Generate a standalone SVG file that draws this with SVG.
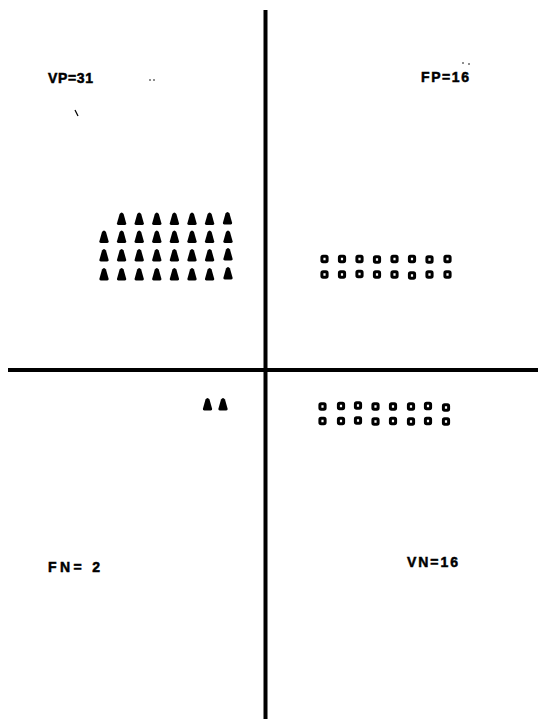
<svg xmlns="http://www.w3.org/2000/svg" xmlns:xlink="http://www.w3.org/1999/xlink" width="538" height="719" viewBox="0 0 538 719">
<style>
.lbl{font-family:"Liberation Sans",Arial,sans-serif;font-weight:bold;font-size:14px;fill:#000;stroke:#000;stroke-width:0.5}
.ax{stroke:#000;stroke-width:4;fill:none}
.sq{fill:none;stroke:#000;stroke-width:3}
.tr{fill:#000}
.spk{stroke:#000;stroke-width:1.2;fill:none}
</style>
<defs>
<path id="tri" class="tr" d="M-4.6,4.8 Q-5,6.5 -3.2,6.5 L3.2,6.5 Q5,6.5 4.6,4.8 L2,-4.5 Q0,-7.5 -2,-4.5 Z"/>
<rect id="sq" class="sq" x="-2.6" y="-2.8" width="5.2" height="5.6" rx="1.2"/>
</defs>
<rect width="538" height="719" fill="#fff"/>
<g id="connectors">
<line class="ax" x1="265.5" y1="10" x2="265.5" y2="719"/>
<line class="ax" x1="8" y1="370" x2="538" y2="370"/>
</g>
<g id="label-vp"><text class="lbl" x="48" y="83" textLength="45" lengthAdjust="spacing">VP=31</text></g>
<g id="label-fp"><text class="lbl" x="421" y="82" textLength="48" lengthAdjust="spacing">FP=16</text></g>
<g id="label-fn"><text class="lbl" x="48" y="572" textLength="52" lengthAdjust="spacing">FN= 2</text></g>
<g id="label-vn"><text class="lbl" x="407" y="567" textLength="51" lengthAdjust="spacing">VN=16</text></g>
<g id="specks">
<line class="spk" x1="75" y1="110" x2="78" y2="116"/>
<circle cx="150" cy="80" r="0.8"/><circle cx="154" cy="80" r="0.8"/>
<circle cx="463" cy="63" r="0.8"/><circle cx="469" cy="64" r="0.8"/>
</g>
<g id="vp-triangles">
<use xlink:href="#tri" x="121.6" y="218.5"/><use xlink:href="#tri" x="139.2" y="218.5"/><use xlink:href="#tri" x="156.8" y="218.5"/><use xlink:href="#tri" x="174.4" y="218.5"/><use xlink:href="#tri" x="192" y="218.5"/><use xlink:href="#tri" x="209.6" y="218.5"/><use xlink:href="#tri" x="227.5" y="218"/>
<use xlink:href="#tri" x="104" y="236.5"/><use xlink:href="#tri" x="121.6" y="236.5"/><use xlink:href="#tri" x="139.2" y="236.5"/><use xlink:href="#tri" x="156.8" y="236.5"/><use xlink:href="#tri" x="174.4" y="236.5"/><use xlink:href="#tri" x="192" y="236.5"/><use xlink:href="#tri" x="209.6" y="236.5"/><use xlink:href="#tri" x="228" y="236.5"/>
<use xlink:href="#tri" x="104" y="255"/><use xlink:href="#tri" x="121.6" y="255"/><use xlink:href="#tri" x="139.2" y="255"/><use xlink:href="#tri" x="156.8" y="255"/><use xlink:href="#tri" x="174.4" y="255"/><use xlink:href="#tri" x="192" y="255"/><use xlink:href="#tri" x="209.6" y="255"/><use xlink:href="#tri" x="228" y="254"/>
<use xlink:href="#tri" x="104" y="274"/><use xlink:href="#tri" x="121.6" y="274"/><use xlink:href="#tri" x="139.2" y="274"/><use xlink:href="#tri" x="156.8" y="274"/><use xlink:href="#tri" x="174.4" y="274"/><use xlink:href="#tri" x="192" y="274"/><use xlink:href="#tri" x="209.6" y="274"/><use xlink:href="#tri" x="228" y="273"/>
</g>
<g id="fn-triangles">
<use xlink:href="#tri" x="207.5" y="404"/><use xlink:href="#tri" x="223" y="404"/>
</g>
<g id="fp-squares">
<use xlink:href="#sq" x="324.5" y="259"/><use xlink:href="#sq" x="342" y="259"/><use xlink:href="#sq" x="359.5" y="259"/><use xlink:href="#sq" x="377" y="259.5"/><use xlink:href="#sq" x="394.5" y="259"/><use xlink:href="#sq" x="412" y="259"/><use xlink:href="#sq" x="429.5" y="259.5"/><use xlink:href="#sq" x="447.5" y="259"/>
<use xlink:href="#sq" x="324.5" y="274.5"/><use xlink:href="#sq" x="342" y="274.5"/><use xlink:href="#sq" x="359.5" y="274"/><use xlink:href="#sq" x="377" y="274.5"/><use xlink:href="#sq" x="394.5" y="274.5"/><use xlink:href="#sq" x="412" y="275.5"/><use xlink:href="#sq" x="429.5" y="274.5"/><use xlink:href="#sq" x="447.5" y="274.5"/>
</g>
<g id="vn-squares">
<use xlink:href="#sq" x="322.5" y="406.5"/><use xlink:href="#sq" x="341" y="406"/><use xlink:href="#sq" x="358" y="405.5"/><use xlink:href="#sq" x="375.5" y="406.5"/><use xlink:href="#sq" x="393" y="406.5"/><use xlink:href="#sq" x="411" y="406.5"/><use xlink:href="#sq" x="428" y="406"/><use xlink:href="#sq" x="446" y="407.5"/>
<use xlink:href="#sq" x="322.5" y="421"/><use xlink:href="#sq" x="341" y="421"/><use xlink:href="#sq" x="358" y="420.5"/><use xlink:href="#sq" x="375.5" y="421.5"/><use xlink:href="#sq" x="393" y="421"/><use xlink:href="#sq" x="411" y="421.5"/><use xlink:href="#sq" x="428" y="421"/><use xlink:href="#sq" x="446" y="421.5"/>
</g>
</svg>
